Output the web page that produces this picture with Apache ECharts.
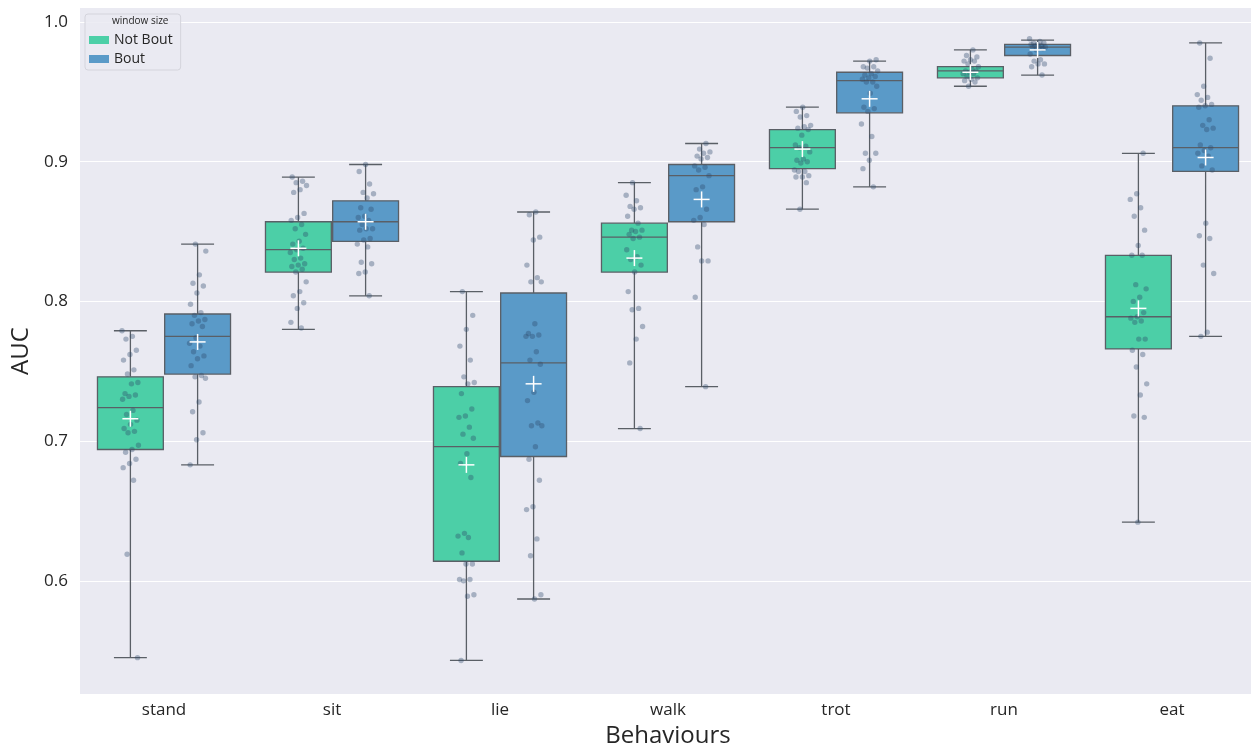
<!DOCTYPE html>
<html>
<head>
<meta charset="utf-8">
<script src="https://cdn.jsdelivr.net/npm/echarts@6/dist/echarts.min.js"></script>
<style>
  html, body { margin: 0; padding: 0; background: #fff; }
  #chart { width: 1251px; height: 747px; }
</style>
</head>
<body>
<div id="chart"></div>
<script>
// categories and hue groups
const behaviours = ['stand', 'sit', 'lie', 'walk', 'trot', 'run', 'eat'];
const groups = ['Not Bout', 'Bout'];
const yTicks = [0.6, 0.7, 0.8, 0.9, 1.0];

// box stats per behaviour: [lower whisker, Q1, median, Q3, upper whisker]
const boxNotBout = [
  [0.545, 0.694, 0.724, 0.746, 0.779],
  [0.780, 0.821, 0.837, 0.857, 0.889],
  [0.543, 0.614, 0.696, 0.739, 0.807],
  [0.709, 0.821, 0.846, 0.856, 0.885],
  [0.866, 0.895, 0.910, 0.923, 0.939],
  [0.954, 0.960, 0.965, 0.968, 0.980],
  [0.642, 0.766, 0.789, 0.833, 0.906]
];
const boxBout = [
  [0.683, 0.748, 0.775, 0.791, 0.841],
  [0.804, 0.843, 0.857, 0.872, 0.898],
  [0.587, 0.689, 0.756, 0.806, 0.864],
  [0.739, 0.857, 0.890, 0.898, 0.913],
  [0.882, 0.935, 0.958, 0.964, 0.972],
  [0.962, 0.976, 0.982, 0.984, 0.987],
  [0.775, 0.893, 0.910, 0.940, 0.985]
];
const meanNotBout = [0.716, 0.838, 0.683, 0.831, 0.909, 0.964, 0.795];
const meanBout = [0.771, 0.857, 0.741, 0.873, 0.945, 0.980, 0.903];

// individual runs (strip points)
const standNotBout = [0.779, 0.775, 0.773, 0.765, 0.762, 0.758, 0.751, 0.748, 0.742, 0.741, 0.734, 0.733, 0.732, 0.730, 0.722, 0.719, 0.715, 0.712, 0.709, 0.707, 0.706, 0.697, 0.694, 0.692, 0.687, 0.684, 0.681, 0.672, 0.619, 0.545];
const standBout = [0.841, 0.836, 0.819, 0.813, 0.811, 0.806, 0.798, 0.792, 0.790, 0.787, 0.786, 0.784, 0.782, 0.774, 0.770, 0.768, 0.764, 0.761, 0.759, 0.754, 0.747, 0.746, 0.745, 0.728, 0.721, 0.706, 0.701, 0.683];
const sitNotBout = [0.889, 0.886, 0.885, 0.883, 0.880, 0.878, 0.863, 0.860, 0.858, 0.855, 0.852, 0.848, 0.843, 0.841, 0.838, 0.837, 0.835, 0.831, 0.830, 0.827, 0.826, 0.825, 0.823, 0.821, 0.814, 0.807, 0.804, 0.799, 0.795, 0.785, 0.781];
const sitBout = [0.898, 0.893, 0.884, 0.878, 0.877, 0.874, 0.867, 0.866, 0.861, 0.860, 0.858, 0.855, 0.852, 0.852, 0.851, 0.845, 0.844, 0.841, 0.839, 0.828, 0.827, 0.821, 0.820, 0.804];
const lieNotBout = [0.807, 0.790, 0.780, 0.768, 0.758, 0.746, 0.742, 0.741, 0.734, 0.723, 0.718, 0.717, 0.710, 0.705, 0.702, 0.691, 0.684, 0.674, 0.634, 0.632, 0.631, 0.620, 0.612, 0.612, 0.601, 0.601, 0.600, 0.590, 0.589, 0.543];
const lieBout = [0.864, 0.862, 0.846, 0.844, 0.826, 0.817, 0.814, 0.814, 0.784, 0.777, 0.776, 0.775, 0.775, 0.764, 0.758, 0.755, 0.735, 0.729, 0.713, 0.711, 0.711, 0.696, 0.687, 0.672, 0.653, 0.651, 0.630, 0.618, 0.590, 0.587];
const walkNotBout = [0.885, 0.876, 0.872, 0.868, 0.867, 0.866, 0.861, 0.856, 0.851, 0.851, 0.850, 0.848, 0.846, 0.845, 0.837, 0.832, 0.830, 0.826, 0.821, 0.807, 0.795, 0.794, 0.782, 0.773, 0.756, 0.709];
const walkBout = [0.913, 0.909, 0.907, 0.906, 0.904, 0.903, 0.902, 0.897, 0.896, 0.894, 0.890, 0.882, 0.880, 0.866, 0.860, 0.858, 0.855, 0.839, 0.829, 0.829, 0.803, 0.739];
const trotNotBout = [0.939, 0.936, 0.933, 0.932, 0.926, 0.925, 0.924, 0.923, 0.919, 0.912, 0.911, 0.910, 0.907, 0.902, 0.901, 0.900, 0.899, 0.894, 0.893, 0.893, 0.890, 0.889, 0.889, 0.885, 0.866];
const trotBout = [0.973, 0.972, 0.968, 0.968, 0.967, 0.965, 0.963, 0.962, 0.961, 0.960, 0.959, 0.957, 0.957, 0.954, 0.949, 0.939, 0.938, 0.936, 0.927, 0.918, 0.906, 0.906, 0.901, 0.895, 0.882];
const runNotBout = [0.980, 0.976, 0.975, 0.973, 0.972, 0.972, 0.970, 0.968, 0.966, 0.965, 0.965, 0.964, 0.963, 0.963, 0.961, 0.960, 0.959, 0.958, 0.957, 0.954];
const runBout = [0.988, 0.986, 0.985, 0.985, 0.984, 0.984, 0.983, 0.983, 0.982, 0.982, 0.982, 0.981, 0.980, 0.977, 0.973, 0.972, 0.970, 0.970, 0.968, 0.962];
const eatNotBout = [0.906, 0.877, 0.873, 0.867, 0.861, 0.851, 0.840, 0.833, 0.833, 0.812, 0.809, 0.803, 0.800, 0.792, 0.789, 0.788, 0.786, 0.785, 0.773, 0.773, 0.765, 0.762, 0.753, 0.741, 0.733, 0.718, 0.717, 0.642];
const eatBout = [0.985, 0.974, 0.954, 0.948, 0.946, 0.944, 0.941, 0.940, 0.939, 0.930, 0.926, 0.924, 0.923, 0.912, 0.910, 0.908, 0.906, 0.904, 0.897, 0.894, 0.856, 0.847, 0.845, 0.826, 0.820, 0.778, 0.775];

const pointsNotBout = [standNotBout, sitNotBout, lieNotBout, walkNotBout, trotNotBout, runNotBout, eatNotBout];
const pointsBout = [standBout, sitBout, lieBout, walkBout, trotBout, runBout, eatBout];

const colors = ['#4ccfa7', '#5a9ac8'];
const edgeColor = '#5a5f66';
const offsets = [-0.2, 0.2];
const fontFamily = '"Open Sans", "Noto Sans", sans-serif';

const chart = echarts.init(document.getElementById('chart'));

function boxRenderer(g) {
  return function (params, api) {
    const cat = api.value(0);
    const band = api.size([1, 0])[0];
    const cx = api.coord([cat, 0])[0] + offsets[g] * band;
    const w = 0.392 * band;
    const y = [1, 2, 3, 4, 5].map(d => api.coord([cat, api.value(d)])[1]);
    const line = { stroke: edgeColor, lineWidth: 1.3 };
    return {
      type: 'group',
      children: [
        { type: 'line', shape: { x1: cx, y1: y[0], x2: cx, y2: y[1] }, style: line },
        { type: 'line', shape: { x1: cx, y1: y[3], x2: cx, y2: y[4] }, style: line },
        { type: 'line', shape: { x1: cx - w / 4, y1: y[0], x2: cx + w / 4, y2: y[0] }, style: line },
        { type: 'line', shape: { x1: cx - w / 4, y1: y[4], x2: cx + w / 4, y2: y[4] }, style: line },
        { type: 'rect', shape: { x: cx - w / 2, y: y[3], width: w, height: y[1] - y[3] },
          style: { fill: colors[g], stroke: edgeColor, lineWidth: 1.3 } },
        { type: 'line', shape: { x1: cx - w / 2, y1: y[2], x2: cx + w / 2, y2: y[2] }, style: line }
      ]
    };
  };
}

function renderPoint(params, api) {
  const cat = api.value(0);
  const g = api.value(2);
  const idx = api.value(3);
  const band = api.size([1, 0])[0];
  const jitter = (((idx * 0.6180339 + g * 0.37 + cat * 0.13) % 1) - 0.5) * 0.1 * band;
  const p = api.coord([cat, api.value(1)]);
  return {
    type: 'circle',
    shape: { cx: p[0] + offsets[g] * band + jitter, cy: p[1], r: 2.7 },
    style: { fill: 'rgba(44, 72, 104, 0.36)' }
  };
}

function renderMean(params, api) {
  const cat = api.value(0);
  const g = api.value(2);
  const band = api.size([1, 0])[0];
  const p = api.coord([cat, api.value(1)]);
  const cx = p[0] + offsets[g] * band;
  const s = { stroke: '#ffffff', lineWidth: 1.5 };
  return {
    type: 'group',
    children: [
      { type: 'line', shape: { x1: cx - 8, y1: p[1], x2: cx + 8, y2: p[1] }, style: s },
      { type: 'line', shape: { x1: cx, y1: p[1] - 8, x2: cx, y2: p[1] + 8 }, style: s }
    ]
  };
}

const boxSets = [boxNotBout, boxBout];
const meanSets = [meanNotBout, meanBout];
const pointSets = [pointsNotBout, pointsBout];

const pointData = [];
const meanData = [];
pointSets.forEach((set, g) => {
  set.forEach((vals, c) => {
    vals.forEach((v, i) => pointData.push([c, v, g, i]));
  });
});
meanSets.forEach((set, g) => set.forEach((m, c) => meanData.push([c, m, g])));

const series = groups.map((name, g) => ({
  name: name,
  type: 'custom',
  renderItem: boxRenderer(g),
  itemStyle: { color: colors[g] },
  encode: { x: 0, y: [1, 2, 3, 4, 5] },
  data: boxSets[g].map((b, c) => [c].concat(b)),
  z: 2
}));
series.push({
  name: 'points',
  type: 'custom',
  renderItem: renderPoint,
  encode: { x: 0, y: 1 },
  data: pointData,
  z: 3
});
series.push({
  name: 'means',
  type: 'custom',
  renderItem: renderMean,
  encode: { x: 0, y: 1 },
  data: meanData,
  z: 4
});

const option = {
  animation: false,
  textStyle: { fontFamily: fontFamily },
  grid: {
    left: 80, top: 8, width: 1176, height: 686,
    outerBoundsMode: 'none',
    containLabel: false,
    show: true, backgroundColor: '#eaeaf2', borderWidth: 0
  },
  legend: {
    data: groups,
    orient: 'vertical',
    left: 85, top: 14,
    padding: [19, 8, 4, 4],
    itemWidth: 20, itemHeight: 8, itemGap: 5,
    icon: 'rect',
    backgroundColor: 'rgba(234,234,242,0.85)',
    borderColor: '#d4d4dc', borderWidth: 1, borderRadius: 3,
    textStyle: { fontSize: 14, color: '#262626', fontFamily: fontFamily },
    z: 10
  },
  graphic: [{
    type: 'text', left: 112, top: 16, z: 11,
    style: { text: 'window size', fontSize: 10, fill: '#262626', fontFamily: fontFamily }
  }],
  xAxis: {
    type: 'category',
    data: behaviours,
    name: 'Behaviours',
    nameLocation: 'middle',
    nameGap: 27,
    nameTextStyle: { fontSize: 24, color: '#262626' },
    axisLine: { show: false },
    axisTick: { show: false },
    axisLabel: { fontSize: 17, color: '#262626', margin: 8 },
    splitLine: { show: false }
  },
  yAxis: {
    type: 'value',
    min: 0.519, max: 1.010,
    name: 'AUC',
    nameLocation: 'middle',
    nameGap: 46,
    nameTextStyle: { fontSize: 24, color: '#262626' },
    axisLine: { show: false },
    axisTick: { show: false },
    axisLabel: {
      fontSize: 17, color: '#262626', margin: 12,
      showMinLabel: false, showMaxLabel: false,
      formatter: v => yTicks.some(t => Math.abs(t - v) < 1e-6) ? v.toFixed(1) : ''
    },
    splitLine: { show: true, showMinLine: false, showMaxLine: false, lineStyle: { color: '#ffffff', width: 1.2 } }
  },
  series: series
};

chart.setOption(option);
</script>
</body>
</html>
